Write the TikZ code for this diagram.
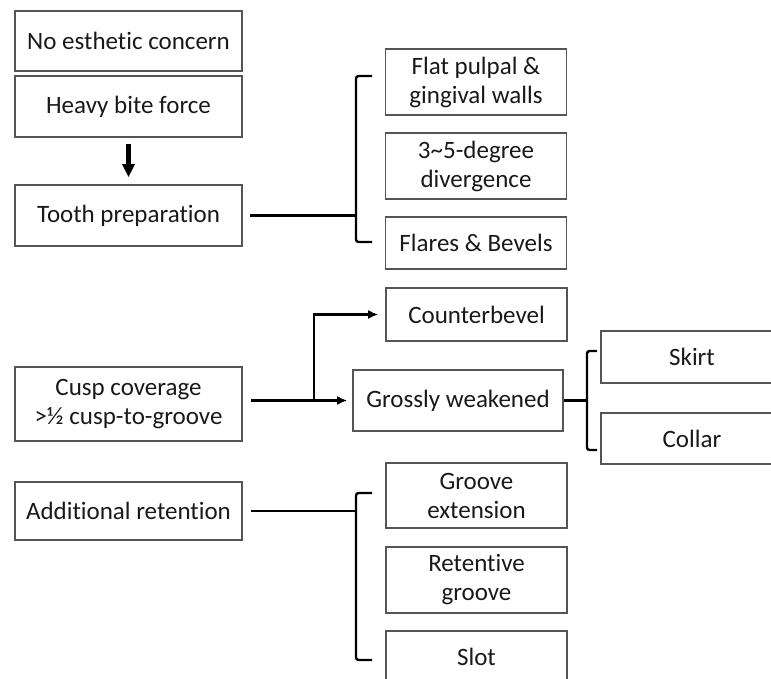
\documentclass[tikz,border=0pt]{standalone}
\usepackage{fontspec}
\setmainfont{Carlito}[Ligatures=NoCommon]
\usepackage{tikz}
\usetikzlibrary{arrows.meta,calc}
\definecolor{boxgray}{RGB}{85,85,85}
\definecolor{textdark}{RGB}{25,25,25}

\tikzset{
  box/.style={draw=boxgray, line width=1.6pt, inner sep=0pt, align=center,
    text=textdark, font=\fontsize{25}{29}\selectfont},
  leftbox/.style={box, minimum width=227pt},
  rightbox/.style={box, minimum width=181pt},
  link/.style={draw=black, line width=2.4pt},
  brace/.style={link, rounded corners=2.5pt},
  smallarr/.style={link, -{Latex[length=10pt,width=9pt]}},
  fatarr/.style={draw=black, line width=5pt, -{Triangle[length=13pt,width=12pt]}}
}

\begin{document}
\begin{tikzpicture}[x=1pt,y=-1pt]
\useasboundingbox (0,0) rectangle (771,679);
\clip (0,0) rectangle (771,679);

% left column
\node[leftbox, minimum height=60pt] (esth) at (128.5,41) {No esthetic concern};
\node[leftbox, minimum height=61pt] (bite) at (128.5,106.5) {Heavy bite force};
\node[leftbox, minimum height=61pt] (prep) at (128.5,215.5) {Tooth preparation};
\node[leftbox, minimum height=74pt] (cusp) at (128.5,404) {Cusp coverage\\>\textonehalf{} cusp-to-groove};
\node[leftbox, minimum height=58pt] (addret) at (128.5,511) {Additional retention};

% preparation details
\node[rightbox, minimum height=66pt] (flat) at (476,82) {Flat pulpal \&\\gingival walls};
\node[rightbox, minimum height=66pt] (diverg) at (476,166) {3\textasciitilde5-degree\\divergence};
\node[rightbox, minimum height=52pt] (flares) at (476,243) {Flares \& Bevels};

% cusp coverage
\node[rightbox, minimum height=53pt] (cbevel) at (476.5,314.5) {Counterbevel};
\node[box, minimum width=210pt, minimum height=61pt] (gross) at (458,400.5) {Grossly weakened};
\node[box, minimum width=200pt, minimum height=52pt] (skirt) at (701,357) {\hspace*{-18pt}Skirt};
\node[box, minimum width=200pt, minimum height=51pt] (collar) at (701,438.5) {\hspace*{-18pt}Collar};

% retention
\node[rightbox, minimum height=65pt] (gext) at (476.5,495.5) {Groove\\extension};
\node[rightbox, minimum height=66pt] (retg) at (476.5,580) {Retentive\\groove};
\node[rightbox, minimum height=52pt] (slot) at (476.5,657) {Slot};

% connectors
\draw[fatarr, shorten <=6pt, shorten >=7pt] (bite) -- (prep);

\coordinate (brA) at (356,215.5);
\draw[link, shorten <=7pt] (prep.east) -- (brA);
\draw[brace] (372,76) -- (356,76) -- (356,242) -- (372,242);

\coordinate (split) at (314,401);
\draw[smallarr, shorten <=8pt, shorten >=5pt] (cusp.east |- gross.west) -- (gross.west);
\draw[smallarr, shorten >=7pt] (split) |- (cbevel.west);

\coordinate (brB) at (587,400.5);
\draw[link] (gross.east) -- (brB);
\draw[brace] (597,351) -- (587,351) -- (587,450) -- (597,450);

\coordinate (brC) at (356,511);
\draw[link, shorten <=8pt] (addret.east) -- (brC);
\draw[brace] (372,493) -- (356,493) -- (356,660) -- (372,660);
\end{tikzpicture}
\end{document}
